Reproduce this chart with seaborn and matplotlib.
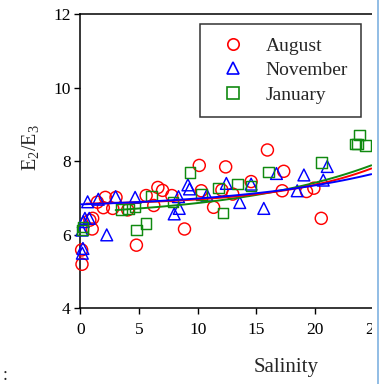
import numpy as np
import pandas as pd
import matplotlib
matplotlib.use("Agg")
import matplotlib.pyplot as plt
from matplotlib.lines import Line2D
from matplotlib.patches import Rectangle
import seaborn as sns

# ---- data ----
aug_x = [0.13, 0.1, 1.0, 1.04, 0.8, 1.44, 1.95, 2.12, 2.75, 3.03, 4.03, 4.77, 5.6, 6.25,
         6.6, 7.0, 7.79, 8.87, 10.13, 10.3, 11.35, 12.06, 12.38, 12.98, 14.55, 15.94,
         17.2, 17.33, 19.27, 19.9, 20.53]
aug_y = [5.19, 5.58, 6.15, 6.44, 6.39, 6.88, 6.73, 7.01, 6.71, 7.01, 6.67, 5.71, 7.06, 6.79,
         7.28, 7.2, 7.06, 6.15, 7.88, 7.19, 6.74, 7.21, 7.84, 7.1, 7.44, 8.3,
         7.19, 7.72, 7.17, 7.26, 6.44]

nov_x = [0.16, 0.21, 0.13, 0.24, 0.38, 0.75, 0.61, 1.52, 2.24, 3.0, 4.66, 7.99, 8.42,
         8.36, 9.16, 9.3, 10.78, 12.44, 13.58, 14.55, 15.63, 16.71, 18.48, 19.05,
         20.7, 21.04]
nov_y = [5.49, 5.62, 6.12, 6.35, 6.44, 6.44, 6.89, 6.96, 5.99, 7.03, 7.01, 6.56, 6.71,
         7.03, 7.35, 7.24, 7.07, 7.39, 6.87, 7.37, 6.71, 7.66, 7.19, 7.62,
         7.48, 7.85]

jan_x = [0.19, 0.22, 3.52, 4.08, 4.66, 4.8, 5.57, 6.08, 7.88, 9.35, 10.3, 11.78, 12.15,
         13.4, 14.55, 16.05, 20.53, 23.46, 23.8, 23.6, 24.3]
jan_y = [6.12, 6.2, 6.68, 6.69, 6.75, 6.12, 6.3, 7.05, 6.88, 7.68, 7.09, 7.26, 6.58,
         7.37, 7.32, 7.7, 7.96, 8.46, 8.71, 8.46, 8.42]

# fitted curves y = a + b*exp(c*x), coefficients
fit_aug = (6.785, 0.0516, 0.12)
fit_nov = (6.689, 0.131, 0.08)
fit_jan = (6.414, 0.197, 0.081)
fit_range_aug = (0.5, 24.8)
fit_range_nov = (0.05, 24.8)
fit_range_jan = (3.0, 24.8)

series_names = ["August", "November", "January"]
x_ticks = [0, 5, 10, 15, 20, 25]
y_ticks = [4, 6, 8, 10, 12]

# ---- styling ----
sns.set_style("ticks")
plt.rcParams["font.family"] = ["Liberation Serif", "DejaVu Serif"]
plt.rcParams["mathtext.fontset"] = "custom"
plt.rcParams["mathtext.rm"] = "Liberation Serif"
plt.rcParams["mathtext.it"] = "Liberation Serif"

colors = {"August": "#ff0000", "November": "#0000ff", "January": "#108a10"}
markers = {"August": "o", "November": "^", "January": "s"}
sizes = {"August": 75, "November": 72, "January": 58}

fig = plt.figure(figsize=(3.85, 3.84), dpi=100)
ax = fig.add_axes([0.209, 0.1979, 0.7616, 0.7656])

data = {"August": (aug_x, aug_y), "November": (nov_x, nov_y), "January": (jan_x, jan_y)}
for name in series_names:
    xs, ys = data[name]
    df = pd.DataFrame({"Salinity": xs, "E2E3": ys})
    sns.scatterplot(data=df, x="Salinity", y="E2E3", ax=ax, marker=markers[name],
                    s=sizes[name], facecolor="none", edgecolor=colors[name],
                    linewidth=1.05, zorder=3, clip_on=False, legend=False)

fits = {"August": (fit_aug, fit_range_aug), "November": (fit_nov, fit_range_nov),
        "January": (fit_jan, fit_range_jan)}
for name in ["January", "August", "November"]:
    (a, b, c), (x0, x1) = fits[name]
    xx = np.linspace(x0, x1, 120)
    dfl = pd.DataFrame({"x": xx, "y": a + b * np.exp(c * xx)})
    sns.lineplot(data=dfl, x="x", y="y", ax=ax, color=colors[name], linewidth=1.4,
                 zorder=4, legend=False)

ax.set_xlim(0, 25)
ax.set_ylim(4, 12)
ax.set_xticks(x_ticks)
ax.set_yticks(y_ticks)
ax.tick_params(axis="both", direction="out", length=4, width=1.0, labelsize=12.5,
               colors="black", pad=3)
ax.tick_params(axis="x", pad=6)
for sp in ax.spines.values():
    sp.set_linewidth(1.1)
    sp.set_color("black")
    sp.set_visible(True)

ax.set_xlabel("Salinity", fontsize=15)
ax.xaxis.set_label_coords(0.70, -0.17)
ax.set_ylabel(r"E$_2$/E$_3$", fontsize=14.5)
ax.yaxis.set_label_coords(-0.135, 0.545)

handles = [Line2D([], [], linestyle="none", marker=markers[n], markersize=8.2,
                  markerfacecolor="none", markeredgecolor=colors[n], markeredgewidth=1.2)
           for n in series_names]
leg = ax.legend(handles, series_names, loc="upper left", bbox_to_anchor=(0.406, 0.966),
                borderaxespad=0, fontsize=14, frameon=True, fancybox=False,
                handlelength=2.05, handletextpad=0.68, labelspacing=0.35, borderpad=0.68)
leg.get_frame().set_edgecolor("black")
leg.get_frame().set_linewidth(1.1)

# screenshot crop edge on the right, with the thin blue border
fig.add_artist(Rectangle((372 / 385, 0), 1 - 372 / 385, 1, transform=fig.transFigure,
                         facecolor="white", edgecolor="none", zorder=10))
fig.add_artist(Line2D([378 / 385, 378 / 385], [0, 1], transform=fig.transFigure,
                      color="#7fb2e0", linewidth=1.2, zorder=11))
fig.text(3 / 385, 1 - 376 / 384, ":", fontsize=13, ha="left", va="center")

fig.savefig("out.png", dpi=100)
